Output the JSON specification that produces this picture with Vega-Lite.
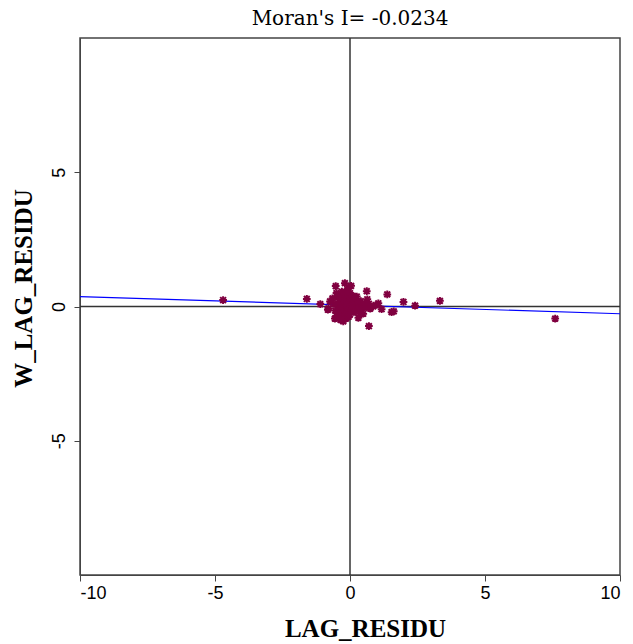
{
  "$schema": "https://vega.github.io/schema/vega-lite/v6.json",
  "autosize": "none",
  "width": 540,
  "height": 537,
  "padding": {"left": 80, "top": 38, "right": 13, "bottom": 69},
  "background": "white",
  "title": {"text": "Moran's I= -0.0234", "offset": 8, "font": "DejaVu Serif", "fontSize": 20, "fontWeight": "normal", "color": "black"},
  "config": {
    "view": {"stroke": "#444444", "strokeWidth": 1.5},
    "axis": {"grid": false, "domainColor": "#444444", "tickColor": "#444444", "labelColor": "black", "labelFont": "Liberation Sans", "labelFontSize": 18, "titleFont": "Liberation Serif", "titleFontSize": 25, "titleFontWeight": "bold", "titleColor": "black", "tickSize": 6,
      "labelExpr": "datum.value < 0 ? '-' + abs(datum.value) : '' + datum.value"}
  },
  "datasets": {
    "pts": [
      {"x": -4.7, "y": 0.24}, {"x": 7.6, "y": -0.45}, {"x": 3.33, "y": 0.21}, {"x": 2.41, "y": 0.03},
      {"x": 1.98, "y": 0.17}, {"x": 1.38, "y": 0.45}, {"x": 1.54, "y": -0.21}, {"x": 1.62, "y": -0.18},
      {"x": 1.17, "y": -0.1}, {"x": 1.05, "y": 0.12}, {"x": 0.86, "y": 0.0}, {"x": 0.95, "y": 0.05},
      {"x": 0.7, "y": -0.73}, {"x": 0.62, "y": 0.57}, {"x": 0.64, "y": 0.27}, {"x": 0.49, "y": -0.27},
      {"x": 0.43, "y": 0.07}, {"x": 0.31, "y": -0.42}, {"x": 0.37, "y": -0.25}, {"x": 0.25, "y": 0.37},
      {"x": -1.6, "y": 0.28}, {"x": -1.1, "y": 0.09}, {"x": -0.8, "y": -0.07}, {"x": -0.82, "y": -0.12},
      {"x": -0.74, "y": 0.19}, {"x": -0.53, "y": 0.76}, {"x": -0.19, "y": 0.87}, {"x": -0.06, "y": 0.7},
      {"x": 0.04, "y": 0.77}, {"x": -0.56, "y": -0.45}, {"x": -0.25, "y": -0.55}, {"x": -0.35, "y": -0.5},
      {"x": -0.15, "y": -0.45},
      {"x": -0.5, "y": 0.5}, {"x": -0.45, "y": 0.35}, {"x": -0.4, "y": 0.2}, {"x": -0.42, "y": 0.05},
      {"x": -0.38, "y": -0.1}, {"x": -0.45, "y": -0.25}, {"x": -0.5, "y": -0.35}, {"x": -0.3, "y": 0.55},
      {"x": -0.28, "y": 0.4}, {"x": -0.3, "y": 0.25}, {"x": -0.32, "y": 0.1}, {"x": -0.3, "y": -0.05},
      {"x": -0.28, "y": -0.2}, {"x": -0.3, "y": -0.35}, {"x": -0.2, "y": 0.45}, {"x": -0.18, "y": 0.3},
      {"x": -0.2, "y": 0.15}, {"x": -0.22, "y": 0.0}, {"x": -0.2, "y": -0.15}, {"x": -0.18, "y": -0.3},
      {"x": -0.1, "y": 0.6}, {"x": -0.08, "y": 0.35}, {"x": -0.1, "y": 0.2}, {"x": -0.12, "y": 0.05},
      {"x": -0.08, "y": -0.1}, {"x": -0.1, "y": -0.25}, {"x": -0.05, "y": -0.38}, {"x": 0.0, "y": 0.5},
      {"x": 0.02, "y": 0.3}, {"x": 0.0, "y": 0.15}, {"x": 0.03, "y": 0.0}, {"x": 0.05, "y": -0.15},
      {"x": 0.0, "y": -0.3}, {"x": 0.1, "y": 0.4}, {"x": 0.12, "y": 0.22}, {"x": 0.15, "y": 0.1},
      {"x": 0.1, "y": -0.05}, {"x": 0.15, "y": -0.2}, {"x": 0.2, "y": 0.3}, {"x": 0.22, "y": 0.05},
      {"x": 0.25, "y": -0.1}, {"x": 0.3, "y": 0.15}, {"x": 0.35, "y": 0.0}, {"x": 0.4, "y": 0.2},
      {"x": 0.45, "y": -0.05}, {"x": 0.55, "y": 0.1}, {"x": 0.6, "y": -0.02}, {"x": 0.7, "y": 0.1},
      {"x": 0.75, "y": -0.08}, {"x": -0.6, "y": 0.1}, {"x": -0.55, "y": -0.15}, {"x": -0.65, "y": 0.3}
    ],
    "fit": [{"x": -10, "y": 0.37}, {"x": 10, "y": -0.27}],
    "zero": [{"v": 0}]
  },
  "layer": [
    {
      "data": {"name": "zero"},
      "mark": {"type": "rule", "color": "#333333", "strokeWidth": 1.5},
      "encoding": {"x": {"field": "v", "type": "quantitative", "scale": {"domain": [-10, 10], "nice": false}}}
    },
    {
      "data": {"name": "zero"},
      "mark": {"type": "rule", "color": "#333333", "strokeWidth": 1.5},
      "encoding": {"y": {"field": "v", "type": "quantitative", "scale": {"domain": [-10, 10], "nice": false}}}
    },
    {
      "data": {"name": "fit"},
      "mark": {"type": "line", "color": "#0000ff", "strokeWidth": 1.2},
      "encoding": {
        "x": {"field": "x", "type": "quantitative"},
        "y": {"field": "y", "type": "quantitative"}
      }
    },
    {
      "data": {"name": "pts"},
      "mark": {"type": "point", "shape": "M0,-1L0,1M-1,0L1,0M-0.75,-0.75L0.75,0.75M-0.75,0.75L0.75,-0.75", "filled": false, "stroke": "#800040", "strokeWidth": 2, "size": 60, "opacity": 1},
      "encoding": {
        "x": {"field": "x", "type": "quantitative", "scale": {"domain": [-10, 10], "nice": false},
          "axis": {"values": [-10, -5, 0, 5, 10], "title": "LAG_RESIDU", "labelPadding": 3, "titlePadding": 14, "titleX": 285}},
        "y": {"field": "y", "type": "quantitative", "scale": {"domain": [-10, 10], "nice": false},
          "axis": {"values": [-5, 0, 5], "title": "W_LAG_RESIDU", "labelAngle": -90, "labelAlign": "center", "labelBaseline": "bottom", "labelPadding": 6, "titlePadding": 14, "titleY": 250}}
      }
    }
  ]
}
